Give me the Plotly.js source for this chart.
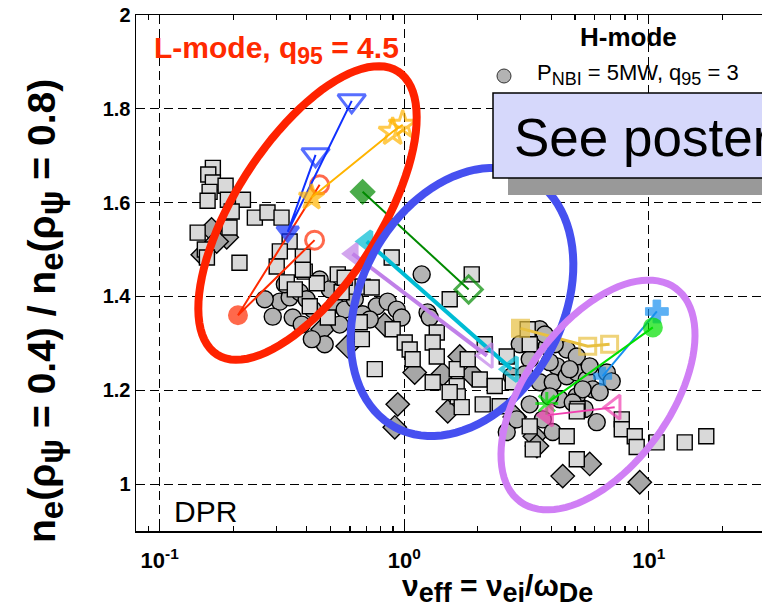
<!DOCTYPE html>
<html>
<head>
<meta charset="utf-8">
<script src="https://cdn.plot.ly/plotly-3.0.1.min.js"></script>
<style>html,body{margin:0;padding:0;background:#fff;}#chart{width:762px;height:610px;}</style>
</head>
<body>
<div id="chart"></div>
<script>
// ---------------- DATA ----------------
// H-mode database, P_NBI = 5 MW, q95 = 3 (grey symbols)
const squaresX = [0.165,0.158,0.165,0.186,0.160,0.157,0.190,0.219,0.197,0.245,0.276,0.315,0.143,0.193,0.153,0.156,0.212,0.340,0.310,0.301,0.385,0.392,0.331,0.439,0.385,0.357,0.535,0.599,0.676,0.555,0.411,0.487,0.658,0.671,0.758,0.897,1.005,1.053,1.083,1.535,1.359,1.308,1.359,1.308,1.640,1.656,1.719,1.535,1.640,1.819,2.135,2.037,2.095,2.346,2.459,2.627,2.78,3.262,3.356,5.12,4.62,5.08,7.76,7.76,8.77,8.93,10.78,14.04,17.2,5.08,0.889,1.889,0.571,3.20,3.262,0.736];
const squaresY = [1.674,1.660,1.643,1.636,1.623,1.604,1.606,1.606,1.581,1.568,1.579,1.568,1.536,1.547,1.500,1.483,1.472,1.517,1.496,1.464,1.485,1.453,1.430,1.428,1.457,1.415,1.447,1.421,1.421,1.409,1.379,1.355,1.345,1.309,1.245,1.330,1.302,1.287,1.266,1.394,1.323,1.302,1.272,1.217,1.209,1.187,1.164,1.196,1.245,1.266,1.298,1.223,1.170,1.209,1.166,1.272,1.217,1.123,1.074,1.160,1.102,1.155,1.138,1.117,1.102,1.079,1.089,1.089,1.102,1.053,1.483,1.447,1.440,1.330,1.298,1.419];
const circlesX = [0.310,0.340,0.374,0.399,0.423,0.290,0.350,0.381,0.451,0.473,0.419,0.772,0.856,0.932,0.976,0.676,1.179,1.246,2.754,3.584,3.83,4.21,3.584,4.05,4.62,5.08,5.58,5.90,4.325,5.08,6.13,3.69,4.05,2.627,2.886,4.62,5.08,3.938,4.753,5.738,6.74,7.06,6.305,5.37,3.938,4.89,5.47,3.262,0.520,0.571,0.628,0.496,0.325,0.269,0.545,2.969,3.262,3.112,3.757,4.128,0.723,1.272];
const circlesY = [1.389,1.398,1.409,1.394,1.372,1.357,1.355,1.340,1.436,1.298,1.309,1.379,1.389,1.372,1.355,1.362,1.447,1.366,1.230,1.330,1.294,1.251,1.217,1.217,1.230,1.238,1.223,1.202,1.181,1.187,1.132,1.138,1.111,1.111,1.138,1.287,1.272,1.260,1.245,1.251,1.238,1.219,1.196,1.202,1.187,1.174,1.160,1.170,1.383,1.372,1.394,1.415,1.426,1.394,1.340,1.298,1.266,1.234,1.319,1.298,1.351,1.355];
const diamondsX = [0.163,0.188,0.171,0.150,0.464,0.587,0.832,1.104,0.941,0.915,1.438,1.507,1.687,1.889,2.832,3.419,3.49,5.738,4.45,9.19];
const diamondsY = [1.543,1.526,1.517,1.489,1.330,1.294,1.340,1.238,1.170,1.121,1.234,1.155,1.272,1.234,1.143,1.102,1.081,1.043,1.017,1.004];

// Coloured scans
const redX = [0.451, 0.209, 0.430];      const redY = [1.638, 1.360, 1.520];
const blueX = [0.610, 0.334, 0.434];     const blueY = [1.817, 1.538, 1.702];
const orangeX = [0.418, 0.897, 0.986];   const orangeY = [1.611, 1.751, 1.766];
const dgreenX = [0.676, 1.835];          const dgreenY = [1.623, 1.415];
const cyanX = [0.703, 2.75];             const cyanY = [1.517, 1.245];
const lavX = [0.615, 2.18];              const lavY = [1.491, 1.274];
const goldX = [2.99, 5.63, 6.92];        const goldY = [1.332, 1.294, 1.298];
const ltblueX = [10.8, 6.48];            const ltblueY = [1.368, 1.230];
const bgreenX = [10.4, 3.83];            const bgreenY = [1.334, 1.172];
const magX = [3.86, 7.26];               const magY = [1.147, 1.164];

// Ticks
const xTickVals = [0.1, 1, 10];
const xTickText = ['<b>10<sup>-1</sup></b>', '<b>10<sup>0</sup></b>', '<b>10<sup>1</sup></b>'];
const xMinorVals = [0.09, 0.2, 0.3, 0.4, 0.5, 0.6, 0.7, 0.8, 0.9, 2, 3, 4, 5, 6, 7, 8, 9, 20];
const yTickVals = [1, 1.2, 1.4, 1.6, 1.8, 2];
const yTickText = ['<b>1</b>', '<b>1.2</b>', '<b>1.4</b>', '<b>1.6</b>', '<b>1.8</b>', '<b>2</b>'];

// ---------------- LAYOUT HELPERS ----------------
const W = 762, H = 610, ML = 136, MR = 0, MT = 15, MB = 79;
const PW = W - ML - MR, PH = H - MT - MB;
const px = v => (v - ML) / PW;          // pixel x -> paper
const py = v => (H - MB - v) / PH;      // pixel y -> paper
const sub = (t, s) => '<sub><span style="font-size:' + s + 'px">' + t + '</span></sub>';

function ellipsePath(cx, cy, a, b, deg) {
  const th = deg * Math.PI / 180;
  let d = '';
  for (let i = 0; i <= 96; i++) {
    const t = 2 * Math.PI * i / 96;
    const X = cx + a * Math.cos(t) * Math.cos(th) - b * Math.sin(t) * Math.sin(th);
    const Y = cy - (a * Math.cos(t) * Math.sin(th) + b * Math.sin(t) * Math.cos(th));
    d += (i === 0 ? 'M' : 'L') + px(X).toFixed(5) + ',' + py(Y).toFixed(5);
  }
  return d + 'Z';
}

const FONT = 'Liberation Sans, Arial, Helvetica, sans-serif';

function grey(x, y, sym, size, fill) {
  return {x, y, type: 'scatter', mode: 'markers', showlegend: false, hoverinfo: 'skip',
    marker: {symbol: sym, size, color: fill, line: {color: '#000', width: 1.4}}};
}
function scan(x, y, color, lw, symbols, sizes, mlw) {
  return {x, y, type: 'scatter', mode: 'lines+markers', showlegend: false,
    line: {color, width: lw},
    marker: {symbol: symbols, size: sizes, color, line: {color, width: mlw}}};
}

const traces = [
  grey(diamondsX, diamondsY, 'diamond', 18, '#a6a6a6'),
  grey(circlesX, circlesY, 'circle', 17, '#b3b3b3'),
  grey(squaresX, squaresY, 'square', 15, '#d9d9d9'),
  scan(redX, redY, '#ff2a00', 2, ['circle-open', 'circle', 'circle-open'], [18, 17, 18], 3),
  scan(blueX, blueY, '#1030ff', 2, ['triangle-down-open', 'triangle-down', 'triangle-down-open'], [24, 19, 24], 3),
  scan(orangeX, orangeY, '#ffb400', 2, ['star', 'star-open', 'star-open'], [19, 21, 21], 3),
  scan(dgreenX, dgreenY, '#008a00', 2, ['diamond', 'diamond-open'], [17, 21], 3),
  scan(cyanX, cyanY, '#00bcd4', 4, ['triangle-left', 'triangle-left-open'], [18, 21], 4),
  scan(lavX, lavY, '#c080e8', 4, ['triangle-left', 'triangle-left-open'], [18, 21], 3),
  scan(goldX, goldY, '#e8c040', 3, ['square', 'square-open', 'square-open'], [16, 16, 16], 3),
  scan(ltblueX, ltblueY, '#1890f0', 2, ['cross', 'cross'], [19, 15], 1),
  scan(bgreenX, bgreenY, '#00e000', 2, ['circle', 'asterisk-open'], [17, 19], 3),
  scan(magX, magY, '#f040b0', 2, ['triangle-left', 'triangle-left-open'], [19, 21], 3)
];

const shapes = [
  {type: 'path', xref: 'paper', yref: 'paper', layer: 'above', path: ellipsePath(307.5, 213, 168, 72.5, 57.4), line: {color: '#ff2200', width: 8}},
  {type: 'path', xref: 'paper', yref: 'paper', layer: 'above', path: ellipsePath(462, 302, 142, 101, 62), line: {color: '#4650f0', width: 8}},
  {type: 'path', xref: 'paper', yref: 'paper', layer: 'above', path: ellipsePath(598, 395, 132, 72, 54), line: {color: '#d07ff5', width: 7}},
  // "See poster" box with shadow
  {type: 'rect', xref: 'paper', yref: 'paper', layer: 'above', x0: px(508), x1: 1.05, y0: py(195), y1: py(120), fillcolor: '#999999', line: {width: 0}},
  {type: 'rect', xref: 'paper', yref: 'paper', layer: 'above', x0: px(493), x1: 1.05, y0: py(178), y1: py(93), fillcolor: '#d6d8fb', line: {color: '#000', width: 1.5}},
  // legend symbol for the grey H-mode circles
  {type: 'circle', xref: 'paper', yref: 'paper', layer: 'above', x0: px(497), x1: px(511), y0: py(83), y1: py(69), fillcolor: '#b3b3b3', line: {color: '#333', width: 1}}
];

const annotations = [
  {xref: 'paper', yref: 'paper', x: px(152), y: py(50), xanchor: 'left', yanchor: 'middle', showarrow: false,
   text: '<b>L-mode, q' + sub('95', 23) + ' = 4.5</b>', font: {family: FONT, size: 30, color: '#ff2a00'}},
  {xref: 'paper', yref: 'paper', x: px(628), y: py(37), xanchor: 'center', yanchor: 'middle', showarrow: false,
   text: '<b>H-mode</b>', font: {family: FONT, size: 26, color: '#000'}},
  {xref: 'paper', yref: 'paper', x: px(535), y: py(74), xanchor: 'left', yanchor: 'middle', showarrow: false,
   text: 'P' + sub('NBI', 18) + ' = 5MW, q' + sub('95', 18) + ' = 3', font: {family: FONT, size: 22, color: '#000'}},
  {xref: 'paper', yref: 'paper', x: px(512), y: py(137), xanchor: 'left', yanchor: 'middle', showarrow: false,
   text: 'See poster', font: {family: FONT, size: 53, color: '#000'}},
  {xref: 'paper', yref: 'paper', x: px(172), y: py(511), xanchor: 'left', yanchor: 'middle', showarrow: false,
   text: 'DPR', font: {family: FONT, size: 30, color: '#000'}},
  // axis titles
  {xref: 'paper', yref: 'paper', x: px(497), y: py(588), xanchor: 'center', yanchor: 'middle', showarrow: false,
   text: '<b>ν' + sub('eff', 27) + ' = ν' + sub('ei', 27) + '/ω' + sub('De', 27) + '</b>', font: {family: FONT, size: 30, color: '#000'}},
  {xref: 'paper', yref: 'paper', x: px(45), y: py(311), xanchor: 'center', yanchor: 'middle', showarrow: false, textangle: -90,
   text: '<b>n' + sub('e', 33) + '(ρ' + sub('ψ', 33) + ' = 0.4) / n' + sub('e', 33) + '(ρ' + sub('ψ', 33) + ' = 0.8)</b>', font: {family: FONT, size: 39, color: '#000'}}
];

const layout = {
  width: W, height: H,
  margin: {l: ML, r: MR, t: MT, b: MB, pad: 0},
  paper_bgcolor: '#fff', plot_bgcolor: '#fff',
  font: {family: FONT, color: '#000'},
  showlegend: false,
  xaxis: {
    type: 'log', range: [Math.log10(0.08), Math.log10(0.08) + PW / 244.5],
    tickmode: 'array', tickvals: xTickVals, ticktext: xTickText,
    tickfont: {family: FONT, size: 22, color: '#000'}, ticklabelstandoff: 9,
    ticks: 'inside', ticklen: 7, tickwidth: 1.2, tickcolor: '#000',
    showline: true, linecolor: '#000', linewidth: 1.5, mirror: 'ticks',
    showgrid: true, gridcolor: '#000', gridwidth: 1, griddash: '9px,5px',
    zeroline: false,
    minor: {tickmode: 'array', tickvals: xMinorVals, ticks: 'inside', ticklen: 5, tickwidth: 1.2, tickcolor: '#000', showgrid: false}
  },
  yaxis: {
    range: [0.9, 2],
    tickmode: 'array', tickvals: yTickVals, ticktext: yTickText,
    tickfont: {family: FONT, size: 20, color: '#000'},
    ticks: '', showline: true, linecolor: '#000', linewidth: 1.5, mirror: false,
    showgrid: true, gridcolor: '#000', gridwidth: 1, griddash: '9px,5px',
    zeroline: false
  },
  shapes, annotations
};

Plotly.newPlot('chart', traces, layout, {displayModeBar: false, staticPlot: true});
</script>
</body>
</html>
